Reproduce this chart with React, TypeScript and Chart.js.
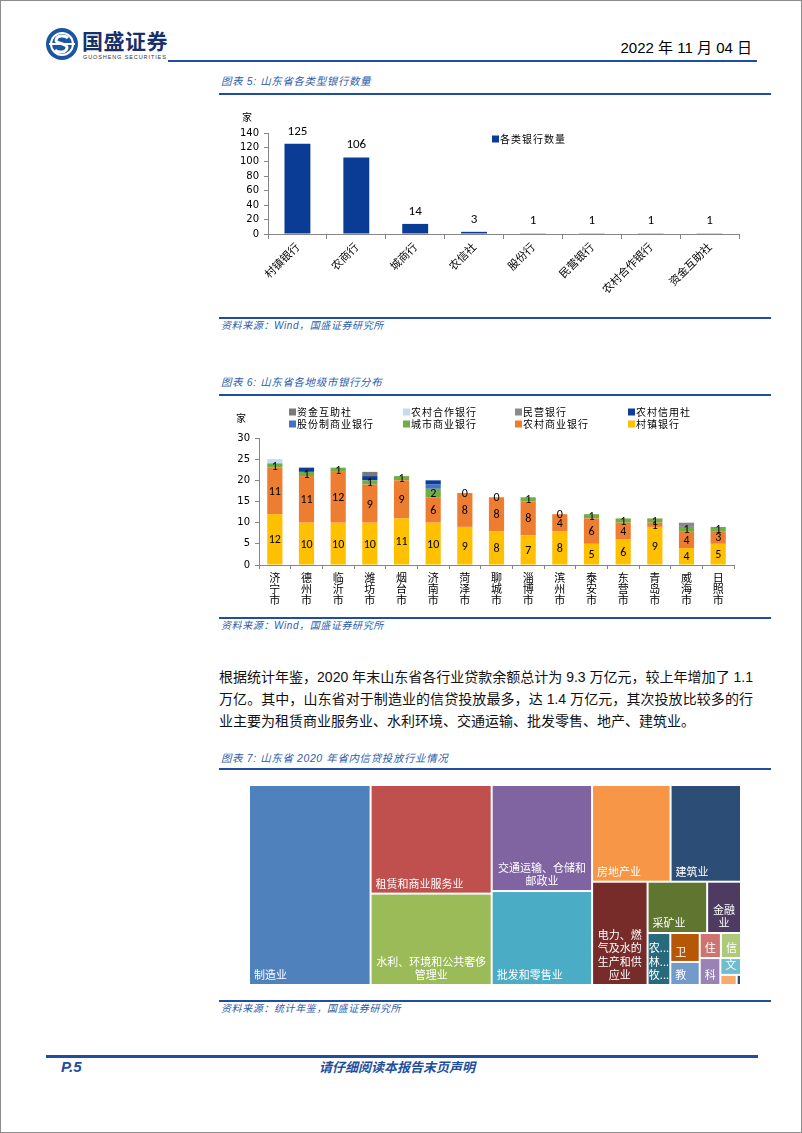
import React, { useEffect, useRef } from 'react';
import { Chart, registerables } from 'chart.js';

Chart.register(...registerables);

// ---------------- Chart 5: bank type counts ----------------
const bankTypes = ['村镇银行', '农商行', '城商行', '农信社', '股份行', '民营银行', '农村合作银行', '资金互助社'];
const bankCounts = [125, 106, 14, 3, 1, 1, 1, 1];
const bankSeriesLabel = '各类银行数量';
const bankAxisMax = 140;
const bankAxisStep = 20;

// ---------------- Chart 6: banks by city ----------------
const cities = ['济宁市', '德州市', '临沂市', '潍坊市', '烟台市', '济南市', '菏泽市', '聊城市', '淄博市', '滨州市', '泰安市', '东营市', '青岛市', '威海市', '日照市'];
const cunzhenBanks = [12, 10, 10, 10, 11, 10, 9, 8, 7, 8, 5, 6, 9, 4, 5];
const ruralCommercialBanks = [11, 11, 12, 9, 9, 6, 8, 8, 8, 4, 6, 4, 1, 4, 3];
const cityCommercialBanks = [1, 1, 1, 1, 1, 2, 0, 0, 1, 0, 1, 1, 1, 1, 1];
const jointStockBanks = [0, 0, 0, 0, 0, 1, 0, 0, 0, 0, 0, 0, 0, 0, 0];
const ruralCreditCoops = [0, 1, 0, 1, 0, 1, 0, 0, 0, 0, 0, 0, 0, 0, 0];
const privateBanks = [0, 0, 0, 0, 0, 0, 0, 0, 0, 0, 0, 0, 0, 1, 0];
const ruralCoopBanks = [1, 0, 0, 0, 0, 0, 0, 0, 0, 0, 0, 0, 0, 0, 0];
const mutualFundCoops = [0, 0, 0, 1, 0, 0, 0, 0, 0, 0, 0, 0, 0, 0, 0];
const citySeriesNames = ['村镇银行', '农村商业银行', '城市商业银行', '股份制商业银行', '农村信用社', '民营银行', '农村合作银行', '资金互助社'];
const citySeriesColors = ['#FFC000', '#ED7D31', '#70AD47', '#4472C4', '#0B3C9E', '#8A8A8A', '#C5D9EF', '#7A7A7A'];
const cityAxisMax = 30;
const cityAxisStep = 5;

// ---------------- Chart 7: loans by industry (treemap) ----------------
const industryLabels: string[][] = [
  ['制造业'],
  ['租赁和商业服务业'],
  ['水利、环境和公共奢侈', '管理业'],
  ['交通运输、仓储和', '邮政业'],
  ['批发和零售业'],
  ['房地产业'],
  ['建筑业'],
  ['电力、燃', '气及水的', '生产和供', '应业'],
  ['采矿业'],
  ['金融', '业'],
  ['农...', '林...', '牧...'],
  ['卫'],
  ['教'],
  ['住'],
  ['信'],
  ['科'],
  ['文'],
  [],
  [],
];
const industryLoans = [14000, 7570, 6370, 6130, 5430, 4370, 3920, 3300, 1760, 1000, 680, 490, 390, 305, 290, 320, 200, 95, 25];
const industryColors = ['#4F81BD', '#C0504D', '#9BBB59', '#8064A2', '#4BACC6', '#F79646', '#2C4D75', '#772C2A', '#5F7530', '#4D3B62', '#276A7C', '#B65708', '#729ACA', '#CD7371', '#AFC97A', '#9983B5', '#6FBDD1', '#F9AB6B', '#2C4D75'];
const treemapRowSizes = [1, 2, 2, 2, 1, 2, 1, 2, 2, 1, 1, 1, 1];

// ---------------- styling ----------------
const BLUE = '#1F4E9E';
const TITLE_BLUE = '#2D5DAA';
const CJK = '"Noto Sans CJK SC", sans-serif';
const NUM = 'Carlito, Lato, "Noto Sans", sans-serif';
const AXIS_NUM = '"DejaVu Sans", Verdana, sans-serif';
const AXIS_GRAY = '#868686';

// ---------------- plugins ----------------
const valueLabelPlugin = {
  id: 'valueLabels',
  afterDatasetsDraw(chart: any, _args: any, opts: any) {
    const ctx = chart.ctx;
    ctx.save();
    ctx.font = opts.font || `12px ${NUM}`;
    ctx.fillStyle = '#000';
    ctx.textAlign = 'center';
    const idxs: number[] = opts.datasets || [0];
    idxs.forEach((di) => {
      const meta = chart.getDatasetMeta(di);
      const data = chart.data.datasets[di].data;
      meta.data.forEach((el: any, i: number) => {
        const v = data[i];
        if (opts.mode === 'top') {
          ctx.textBaseline = 'bottom';
          ctx.fillText(String(v), el.x, el.y - (opts.offset ?? 6));
        } else {
          ctx.textBaseline = 'middle';
          ctx.fillText(String(v), el.x, (el.y + el.base) / 2 + 1);
        }
      });
    });
    ctx.restore();
  },
};

const unitLabelPlugin = {
  id: 'unitLabel',
  afterDraw(chart: any, _args: any, opts: any) {
    const ctx = chart.ctx;
    ctx.save();
    ctx.font = `10px ${CJK}`;
    ctx.fillStyle = '#000';
    ctx.textAlign = 'center';
    ctx.textBaseline = 'middle';
    ctx.fillText(opts.text, chart.chartArea.left + opts.dx, chart.chartArea.top + opts.dy);
    ctx.restore();
  },
};

const gridLegendPlugin = {
  id: 'gridLegend',
  afterDraw(chart: any, _args: any, opts: any) {
    const ctx = chart.ctx;
    const dsets = chart.data.datasets.slice();
    if (opts.reverse) dsets.reverse();
    ctx.save();
    ctx.font = `10px ${CJK}`;
    (ctx as any).letterSpacing = '1px';
    ctx.textBaseline = 'middle';
    ctx.textAlign = 'left';
    dsets.forEach((ds: any, k: number) => {
      const col = k % opts.columns.length;
      const row = Math.floor(k / opts.columns.length);
      const x = opts.columns[col];
      const y = opts.rows[row];
      ctx.fillStyle = ds.backgroundColor;
      ctx.fillRect(x, y - 3.5, 7, 7);
      ctx.fillStyle = '#000';
      ctx.fillText(ds.label, x + 8, y);
    });
    ctx.restore();
  },
};

const treemapPlugin = {
  id: 'treemap',
  afterDatasetsDraw(chart: any) {
    const xs = chart.scales.x;
    const ys = chart.scales.y;
    let rx = xs.getPixelForValue(0);
    let ry = ys.getPixelForValue(1);
    let rw = xs.getPixelForValue(1) - rx;
    let rh = ys.getPixelForValue(0) - ry;
    const total = industryLoans.reduce((a, b) => a + b, 0);
    const k = (rw * rh) / total;
    const rects: { x: number; y: number; w: number; h: number; i: number }[] = [];
    let idx = 0;
    for (const n of treemapRowSizes) {
      const items = industryLoans.slice(idx, idx + n);
      const area = items.reduce((a, b) => a + b, 0) * k;
      if (rw >= rh) {
        const w = area / rh;
        let yy = ry;
        items.forEach((v, j) => {
          const h = (v * k) / w;
          rects.push({ x: rx, y: yy, w, h, i: idx + j });
          yy += h;
        });
        rx += w;
        rw -= w;
      } else {
        const h = area / rw;
        let xx = rx;
        items.forEach((v, j) => {
          const w = (v * k) / h;
          rects.push({ x: xx, y: ry, w, h, i: idx + j });
          xx += w;
        });
        ry += h;
        rh -= h;
      }
      idx += n;
    }
    const ctx = chart.ctx;
    ctx.save();
    rects.forEach((r) => {
      ctx.fillStyle = industryColors[r.i];
      ctx.fillRect(r.x + 1, r.y + 1, Math.max(r.w - 2, 0.8), Math.max(r.h - 2, 0.8));
    });
    ctx.font = `11px ${CJK}`;
    ctx.fillStyle = '#fff';
    ctx.textBaseline = 'middle';
    rects.forEach((r) => {
      const lines = industryLabels[r.i] || [];
      if (!lines.length) return;
      const lh = 13.5;
      const lastY = r.y + r.h - 10;
      lines.forEach((ln, j) => {
        const yy = lastY - (lines.length - 1 - j) * lh;
        if (lines.length > 1) {
          ctx.textAlign = 'center';
          ctx.fillText(ln, r.x + r.w / 2, yy);
        } else {
          ctx.textAlign = 'left';
          ctx.fillText(ln, r.x + 5, yy);
        }
      });
    });
    ctx.restore();
  },
};

// ---------------- chart components ----------------
function BankTypeChart() {
  const ref = useRef<HTMLCanvasElement>(null);
  useEffect(() => {
    const chart = new Chart(ref.current as HTMLCanvasElement, {
      type: 'bar',
      data: {
        labels: bankTypes,
        datasets: [
          {
            label: bankSeriesLabel,
            data: bankCounts,
            backgroundColor: '#0A3C96',
            barPercentage: 0.44,
            categoryPercentage: 1,
          },
        ],
      },
      options: {
        responsive: false,
        animation: false,
        layout: { padding: { top: 32, right: 32, left: 0, bottom: 0 } },
        plugins: {
          legend: { display: false },
          tooltip: { enabled: false },
          valueLabels: { mode: 'top', datasets: [0], font: `13px ${NUM}`, offset: 6 },
          unitLabel: { text: '家', dx: -21, dy: -16 },
          gridLegend: { columns: [273], rows: [38], reverse: false },
        } as any,
        scales: {
          x: {
            grid: { display: true, drawOnChartArea: false, drawTicks: true, tickLength: 5, color: AXIS_GRAY },
            border: { color: AXIS_GRAY },
            ticks: { color: '#000', font: { family: CJK, size: 11 }, maxRotation: 45, minRotation: 45, autoSkip: false, padding: 1 },
            afterFit: (s: any) => {
              s.height = 79;
            },
          },
          y: {
            min: 0,
            max: bankAxisMax,
            ticks: { stepSize: bankAxisStep, autoSkip: false, color: '#000', font: { family: AXIS_NUM, size: 10 }, padding: 5 },
            grid: { drawOnChartArea: false, drawTicks: true, tickLength: 4, color: AXIS_GRAY },
            border: { color: AXIS_GRAY },
            afterFit: (s: any) => {
              s.width = 49;
            },
          },
        },
      },
      plugins: [valueLabelPlugin, unitLabelPlugin, gridLegendPlugin],
    } as any);
    return () => chart.destroy();
  }, []);
  return <canvas ref={ref} width={552} height={212} style={{ position: 'absolute', left: 218, top: 100 }} />;
}

function CityBankChart() {
  const ref = useRef<HTMLCanvasElement>(null);
  useEffect(() => {
    const series = [cunzhenBanks, ruralCommercialBanks, cityCommercialBanks, jointStockBanks, ruralCreditCoops, privateBanks, ruralCoopBanks, mutualFundCoops];
    const chart = new Chart(ref.current as HTMLCanvasElement, {
      type: 'bar',
      data: {
        labels: cities,
        datasets: series.map((d, i) => ({
          label: citySeriesNames[i],
          data: d,
          backgroundColor: citySeriesColors[i],
          barPercentage: 0.48,
          categoryPercentage: 1,
        })),
      },
      options: {
        responsive: false,
        animation: false,
        layout: { padding: { top: 39, right: 37, left: 0, bottom: 0 } },
        plugins: {
          legend: { display: false },
          tooltip: { enabled: false },
          valueLabels: { mode: 'center', datasets: [0, 1, 2], font: `12px ${NUM}` },
          unitLabel: { text: '家', dx: -18, dy: -20 },
          gridLegend: { columns: [70, 184, 296, 409], rows: [13, 25], reverse: true },
        } as any,
        scales: {
          x: {
            stacked: true,
            grid: { display: true, drawOnChartArea: false, drawTicks: true, tickLength: 4, color: AXIS_GRAY },
            border: { color: AXIS_GRAY },
            ticks: {
              color: '#000',
              font: { family: CJK, size: 11, lineHeight: 1.0 },
              maxRotation: 0,
              minRotation: 0,
              autoSkip: false,
              padding: 3,
              callback: (_v: any, i: number) => cities[i].split(''),
            },
            afterFit: (s: any) => {
              s.height = 49;
            },
          },
          y: {
            stacked: true,
            min: 0,
            max: cityAxisMax,
            ticks: { stepSize: cityAxisStep, autoSkip: false, color: '#000', font: { family: AXIS_NUM, size: 10 }, padding: 5 },
            grid: { drawOnChartArea: false, drawTicks: true, tickLength: 4, color: AXIS_GRAY },
            border: { color: AXIS_GRAY },
            afterFit: (s: any) => {
              s.width = 40;
            },
          },
        },
      },
      plugins: [valueLabelPlugin, unitLabelPlugin, gridLegendPlugin],
    } as any);
    return () => chart.destroy();
  }, []);
  return <canvas ref={ref} width={552} height={215} style={{ position: 'absolute', left: 218, top: 398 }} />;
}

function IndustryTreemap() {
  const ref = useRef<HTMLCanvasElement>(null);
  useEffect(() => {
    const chart = new Chart(ref.current as HTMLCanvasElement, {
      type: 'scatter',
      data: { datasets: [{ label: '信贷投放', data: [] }] },
      options: {
        responsive: false,
        animation: false,
        layout: { padding: 0 },
        plugins: { legend: { display: false }, tooltip: { enabled: false } },
        scales: {
          x: { type: 'linear', min: 0, max: 1, display: false },
          y: { type: 'linear', min: 0, max: 1, display: false },
        },
      },
      plugins: [treemapPlugin],
    } as any);
    return () => chart.destroy();
  }, []);
  return <canvas ref={ref} width={492} height={200} style={{ position: 'absolute', left: 248, top: 784 }} />;
}

// ---------------- page pieces ----------------
const Rule = ({ x, y, w, h = 2 }: { x: number; y: number; w: number; h?: number }) => (
  <div style={{ position: 'absolute', left: x, top: y, width: w, height: h, background: BLUE }} />
);

const Caption = ({ x, cy, text, size = 10.5 }: { x: number; cy: number; text: string; size?: number }) => (
  <div
    style={{
      position: 'absolute',
      left: x,
      top: cy - 8,
      height: 16,
      lineHeight: '16px',
      fontSize: size,
      fontStyle: 'italic',
      color: TITLE_BLUE,
      fontFamily: `"Liberation Sans", ${CJK}`,
      letterSpacing: '0.6px',
      whiteSpace: 'nowrap',
    }}
  >
    {text}
  </div>
);

const paraLines = [
  '根据统计年鉴，2020 年末山东省各行业贷款余额总计为 9.3 万亿元，较上年增加了 1.1',
  '万亿。其中，山东省对于制造业的信贷投放最多，达 1.4 万亿元，其次投放比较多的行',
  '业主要为租赁商业服务业、水利环境、交通运输、批发零售、地产、建筑业。',
];

function Logo() {
  return (
    <div style={{ position: 'absolute', left: 44, top: 24 }}>
      <svg width={34} height={34} viewBox="0 0 34 34" style={{ position: 'absolute', left: 0, top: 2 }}>
        <circle cx={17} cy={17} r={16} fill="#1D55A5" />
        <circle cx={17} cy={17} r={12} fill="#fff" />
        <circle cx={17} cy={17} r={10} fill="#1D55A5" />
        <path d="M23 11 C 20 8, 12 8, 11 13 C 10 17, 23 16, 22 21 C 21 26, 13 26, 10 23" stroke="#fff" strokeWidth={3} fill="none" />
        <rect x={4} y={16} width={26} height={2} fill="#fff" />
      </svg>
      <div
        style={{
          position: 'absolute',
          left: 37,
          top: 2,
          fontFamily: CJK,
          fontWeight: 700,
          fontSize: 21,
          lineHeight: '26px',
          color: '#17306B',
          whiteSpace: 'nowrap',
          letterSpacing: '0.5px',
        }}
      >
        国盛证券
      </div>
      <div
        style={{
          position: 'absolute',
          left: 38,
          top: 29,
          fontFamily: '"Liberation Sans", sans-serif',
          fontSize: 5.5,
          letterSpacing: '0.9px',
          color: '#333',
          whiteSpace: 'nowrap',
        }}
      >
        GUOSHENG SECURITIES
      </div>
    </div>
  );
}

export default function App() {
  return (
    <div
      style={{
        position: 'absolute',
        left: 0,
        top: 0,
        width: 802,
        height: 1133,
        boxSizing: 'border-box',
        border: '1px solid #8c8c8c',
        background: '#fff',
        overflow: 'hidden',
        fontFamily: CJK,
      }}
    >
      <Logo />
      <div
        style={{
          position: 'absolute',
          right: 802 - 753,
          top: 37,
          fontFamily: `"Liberation Sans", ${CJK}`,
          fontSize: 15,
          lineHeight: '20px',
          color: '#000',
          whiteSpace: 'nowrap',
        }}
      >
        2022 年 11 月 04 日
      </div>
      <Rule x={167} y={59} w={589} h={2} />

      {/* Chart 5 */}
      <Caption x={220} cy={80} text="图表 5:  山东省各类型银行数量" />
      <Rule x={218} y={92} w={552} h={2} />
      <BankTypeChart />
      <Rule x={218} y={316} w={552} h={2} />
      <Caption x={220} cy={325} text="资料来源：Wind，国盛证券研究所" size={10} />

      {/* Chart 6 */}
      <Caption x={220} cy={381} text="图表 6:  山东省各地级市银行分布" />
      <Rule x={218} y={393} w={552} h={2} />
      <CityBankChart />
      <Rule x={218} y={616} w={552} h={2} />
      <Caption x={220} cy={625} text="资料来源：Wind，国盛证券研究所" size={10} />

      {/* Paragraph */}
      {paraLines.map((ln, i) => (
        <div
          key={i}
          style={{
            position: 'absolute',
            left: 218,
            top: 665 + i * 22,
            width: 534,
            height: 22,
            lineHeight: '22px',
            fontSize: 14,
            color: '#111',
            fontFamily: `"Liberation Sans", ${CJK}`,
            textAlign: 'justify',
            textAlignLast: i < paraLines.length - 1 ? 'justify' : 'left',
            whiteSpace: 'nowrap',
          } as any}
        >
          {ln}
        </div>
      ))}

      {/* Chart 7 */}
      <Caption x={220} cy={757} text="图表 7:  山东省 2020 年省内信贷投放行业情况" />
      <Rule x={218} y={767} w={552} h={2} />
      <IndustryTreemap />
      <Rule x={218} y={999} w={552} h={2} />
      <Caption x={220} cy={1008} text="资料来源：统计年鉴，国盛证券研究所" size={10} />

      {/* Footer */}
      <Rule x={45} y={1054} w={712} h={3} />
      <div
        style={{
          position: 'absolute',
          left: 60,
          top: 1057,
          fontFamily: '"Liberation Sans", sans-serif',
          fontWeight: 700,
          fontStyle: 'italic',
          fontSize: 15,
          lineHeight: '18px',
          color: BLUE,
        }}
      >
        P.5
      </div>
      <div
        style={{
          position: 'absolute',
          left: 318,
          top: 1057,
          fontFamily: CJK,
          fontWeight: 700,
          fontStyle: 'italic',
          fontSize: 13,
          lineHeight: '18px',
          color: BLUE,
          whiteSpace: 'nowrap',
        }}
      >
        请仔细阅读本报告末页声明
      </div>
    </div>
  );
}
